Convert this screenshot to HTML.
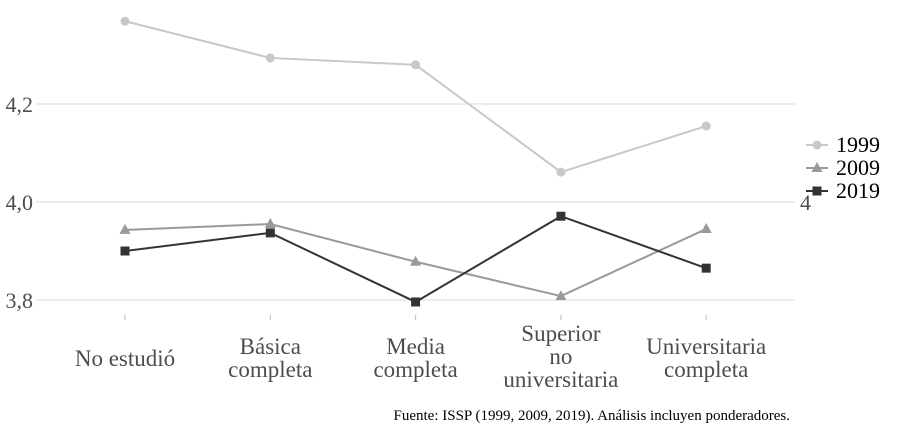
<!DOCTYPE html>
<html><head><meta charset="utf-8"><style>
body{margin:0;background:#fff;}
svg text{font-family:"Liberation Serif","DejaVu Serif",serif !important;}
</style></head><body>
<svg id="chart" width="922" height="432" xmlns="http://www.w3.org/2000/svg" font-family="Liberation Serif, serif"></svg>
<script>
const categories=[["No estudió"],["Básica","completa"],["Media","completa"],["Superior","no","universitaria"],["Universitaria","completa"]];
const years=["1999","2009","2019"];
const s1999=[4.369,4.294,4.280,4.061,4.155];
const s2009=[3.943,3.955,3.878,3.808,3.945];
const s2019=[3.900,3.937,3.796,3.971,3.865];
const yTicks=[3.8,4.0,4.2];
const yTickLabels=["3,8","4,0","4,2"];
const NS="http://www.w3.org/2000/svg";
const svg=document.getElementById('chart');
function el(t,a,p){const e=document.createElementNS(NS,t);for(const k in a)e.setAttribute(k,a[k]);if(t==='text')e.setAttribute('font-family','Liberation Serif, serif');(p||svg).appendChild(e);return e;}
const x=i=>125+i*145.3;
const y=v=>202-(v-4.0)*490;
yTicks.forEach((t,i)=>{
  const g=el('line',{x1:36,x2:795,y1:y(t),y2:y(t),stroke:'#d9d9d9','stroke-width':1});
  
  
  const tx=el('text',{x:33,y:y(t)+8,'text-anchor':'end','font-size':22,fill:'#4d4d4d'});
  tx.textContent=yTickLabels[i];
  
  
});
const r=el('text',{x:800,y:210,'font-size':22,fill:'#4d4d4d'});r.textContent='4';


categories.forEach((c,i)=>{
  const tk=el('line',{x1:x(i),x2:x(i),y1:315,y2:320,stroke:'#bbb'});
  
  
  const n=c.length;const start=n===1?366:(n===2?354:341);
  c.forEach((ln,j)=>{
    const t=el('text',{x:x(i),y:start+j*23,'text-anchor':'middle','font-size':23,fill:'#4d4d4d'});
    t.textContent=ln;
    
    
  });
});
const series=[[s1999,'#c8c8c8','circle'],[s2009,'#9a9a9a','tri'],[s2019,'#333333','square']];
function marker(shape,cx,cy,col){
  let m;
  if(shape==='circle')m=el('circle',{cx,cy,r:4.5,fill:col});
  else if(shape==='tri')m=el('polygon',{points:`${cx},${cy-6} ${cx-5.5},${cy+4} ${cx+5.5},${cy+4}`,fill:col});
  else m=el('rect',{x:cx-4.5,y:cy-4.5,width:9,height:9,fill:col});
  return m;
}
series.forEach(([d,col,sh],si)=>{
  const p=el('polyline',{points:d.map((v,i)=>x(i)+','+y(v)).join(' '),fill:'none',stroke:col,'stroke-width':2});
  
  
  d.forEach((v,i)=>{
    const m=marker(sh,x(i),y(v),col);
    
    
  });
  const ly=145+si*23;
  const ll=el('line',{x1:806,x2:828,y1:ly,y2:ly,stroke:col,'stroke-width':2});
  
  
  const lm=marker(sh,817,ly,col);
  
  
  const lt=el('text',{x:836,y:ly+7,'font-size':22,fill:'#000'});
  lt.textContent=years[si];
  
  
});
const cap=el('text',{x:790,y:420,'text-anchor':'end','font-size':15,fill:'#000'});
cap.textContent='Fuente: ISSP (1999, 2009, 2019). Análisis incluyen ponderadores.';


</script>
</body></html>
